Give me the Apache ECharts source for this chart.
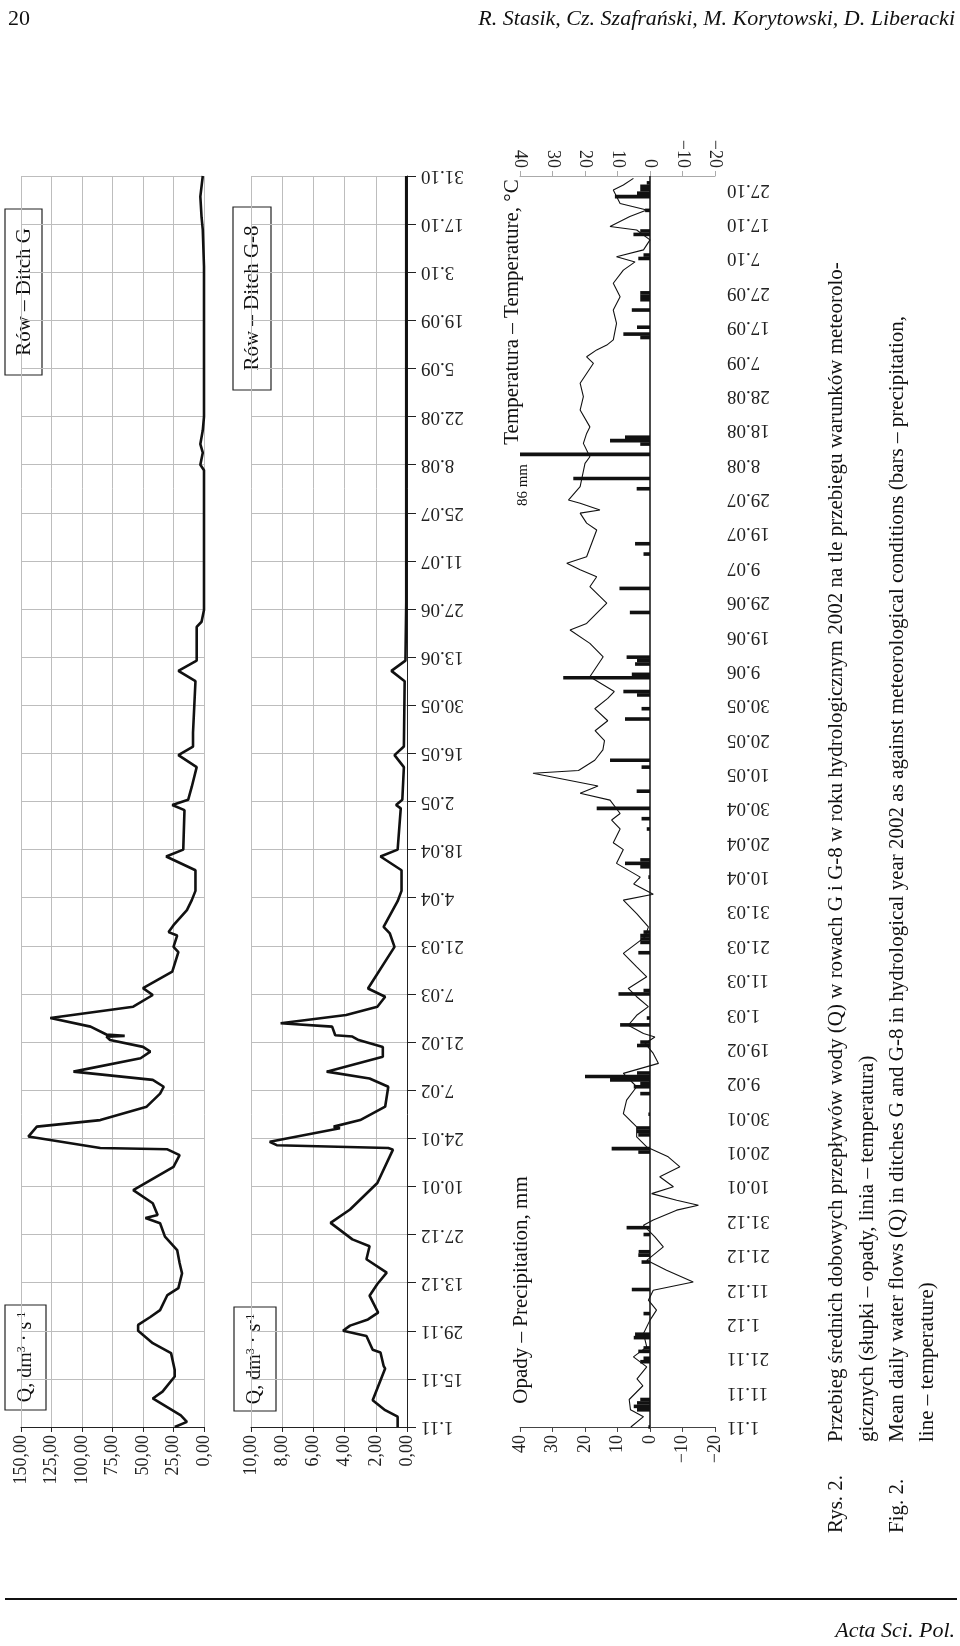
<!DOCTYPE html>
<html lang="pl">
<head>
<meta charset="UTF-8">
<title>Rys. 2</title>
<script src="https://cdn.jsdelivr.net/npm/echarts@6/dist/echarts.min.js"></script>
<style>
  html, body { margin: 0; padding: 0; background: #fff; }
  #charts { width: 960px; height: 1646px; }
</style>
</head>
<body>
<div id="charts"></div>
<script>
// dzien liczony od 1.11.2001 (0) do 31.10.2002 (364)
var qGDays = [0, 1.5, 3.4, 8.3, 10.3, 14.7, 16.6, 21.5, 24.4, 28, 29.7, 32, 34, 38.4, 40.4, 44.7, 47.7, 51.5, 55.4, 59.3, 60.8, 61.7, 65.1, 68.9, 75.7, 79.1, 80.8, 81.2, 84.5, 87.4, 89.3, 93.2, 97, 99, 101, 103.4, 107.3, 109.2, 110.6, 112.6, 113.6, 113.8, 114.2, 116.5, 119, 122.3, 125.7, 127.7, 132.5, 138.2, 139.7, 143, 144, 146, 150.4, 153.3, 156, 162, 166, 168, 179.5, 181, 182.5, 186.3, 192, 195.5, 198, 202, 217, 220, 223, 232.8, 234.3, 237.7, 278.4, 280, 283.5, 286, 290, 294, 337.6, 348.3, 352, 358, 364];
var qGVals = [24, 14, 19, 42, 34, 24, 24, 27, 42, 54, 54, 44, 36, 30, 21, 18, 20, 22, 32, 36, 48, 38, 42, 58, 25, 20, 30, 85, 144, 137, 85, 47, 36, 33, 42, 107, 52, 44, 50, 77, 80, 65, 80, 93, 126, 58, 42, 50, 26, 21, 25, 22, 29, 25, 14, 10, 7, 7, 31, 17, 16, 26, 13, 10, 6, 21, 9, 9, 7, 21, 6, 6, 2, 0, 0, 3, 1, 3, 1, 0, 0, 1, 2, 3, 1];

var qG8Days = [0, 3, 4.9, 7.8, 17, 17.8, 21.7, 22.5, 26.5, 28, 29.5, 31.3, 33.3, 38.2, 41.6, 44.9, 48.8, 52.6, 54.6, 59.4, 63.3, 71, 80.7, 81.2, 82, 83, 86.9, 87.4, 89.3, 93.2, 99, 101.4, 103.4, 107.7, 110.6, 112.6, 113.6, 114, 116.5, 117.5, 119.9, 122.3, 125.2, 127.6, 139.7, 143.6, 145.5, 153, 156, 162, 166, 168, 180, 181, 182.5, 192, 195.5, 198, 217, 220, 223, 240, 364];
var qG8Vals = [0.6, 0.6, 1.4, 2.2, 1.4, 1.5, 1.7, 2.2, 2.6, 4.1, 3.65, 2.5, 1.85, 2.4, 1.9, 1.3, 2.6, 2.4, 3.5, 4.9, 3.65, 1.9, 0.9, 1.2, 8.35, 8.8, 4.3, 4.7, 3, 1.4, 1.2, 2.4, 5.15, 1.55, 1.55, 3.1, 3.5, 4.6, 4.8, 8.1, 3.9, 1.9, 1.4, 2.5, 0.8, 1.1, 1.5, 0.6, 0.35, 0.35, 1.7, 0.6, 0.4, 0.7, 0.3, 0.2, 0.8, 0.2, 0.15, 1.0, 0.1, 0.05, 0.05];

var tempDays = [0, 3, 5, 8, 12, 14, 17.5, 20.4, 23.3, 27.2, 31.1, 34, 36.9, 39.8, 42.2, 45.6, 48.5, 52.4, 55.3, 58.7, 60.2, 63.1, 64.5, 66, 67.9, 69.9, 72.8, 75.7, 78.6, 81.5, 84.4, 87.3, 91.2, 95.1, 99, 102.9, 105.8, 108.7, 111.6, 113.5, 114.5, 116.9, 119.8, 122.3, 125.2, 127.6, 131, 133.9, 137.8, 142.6, 145.5, 149.4, 153.3, 155, 158, 160, 164, 168, 170, 174, 176.6, 178.5, 182.4, 184.4, 186.5, 190.2, 191, 194, 197, 199.7, 202.6, 205.5, 209, 212, 214, 218.3, 224.1, 228, 231.9, 233.8, 239.7, 244.5, 247.4, 249.4, 251.3, 253.2, 261, 263, 265.9, 266.8, 268.8, 269.7, 273.6, 280.4, 282.3, 286.2, 289.1, 291, 295.9, 299.8, 303.7, 309.5, 311.4, 313.4, 314.8, 316.3, 321.1, 325, 328.9, 332.8, 336.6, 339, 340.5, 342.5, 345.4, 348.3, 349.3, 352.2, 354.1, 356, 359.9, 361.4, 363.3];
var tempVals = [5.9, 2, 6, 6.4, 2.2, 4, 1, 5.1, 1, 2, 0, -2, 0.5, -1, -13.3, -5.1, 1, -4.1, -1.5, 2, -1, -8.2, -14.9, -8.2, -0.5, -7.2, -3, -9.2, -5.6, 1, 4.1, 4.1, 8.2, 7.2, 4.1, 8.2, -2.6, -1, 1.5, -1.5, 2, 6.7, 4.1, 0.5, 4.1, 6.7, 1, 4.1, 8.2, 1.5, 0.5, 4.1, 8.2, -1, 5, 3, 10.3, 8.2, 11.3, 9.2, 11.8, 9.2, 12.3, 21.5, 16, 36, 22, 17, 14.5, 14, 16.9, 13, 17, 13, 11, 18.5, 14.4, 18.5, 24.6, 19.5, 13.3, 18.5, 16.4, 21.5, 25.6, 19.5, 16.4, 19.5, 21.5, 15.4, 21.5, 25.1, 21.5, 20, 18.5, 20.5, 19.5, 18.5, 21.5, 20.5, 21.5, 17.4, 19.5, 16.4, 13.3, 11.3, 10.3, 11.3, 9.2, 11.3, 8.2, 4.6, 10.3, 2, 0, 4.1, 12.3, 6.2, 1, 9.2, 11.3, 8.2, 5.1];

var precDays = [0, 5, 6, 7, 8, 19, 20, 22, 23, 26, 27, 33, 40, 48, 50, 51, 56, 58, 80, 81, 85, 86, 87, 91, 97, 99, 100, 101, 102, 103, 111, 112, 117, 119, 126, 127, 138, 141, 142, 143, 144, 160, 163, 164, 165, 174, 177, 180, 185, 192, 194, 206, 209, 213, 214, 218, 219, 222, 223, 224, 237, 244, 254, 257, 273, 276, 283, 286, 287, 288, 317, 318, 320, 325, 328, 329, 330, 340, 341, 347, 348, 354, 358, 359, 360, 361, 362];
var precMm = [0.5, 4, 5, 4, 3, 3, 2, 3.6, 2, 5, 4.6, 2, 5.6, 2.6, 3.6, 3.5, 2, 7.2, 3.6, 11.8, 3.6, 4, 4, 0.5, 3, 5, 3, 12.3, 20, 4, 4, 3, 9.2, 1, 9.7, 2, 3.6, 3, 3, 3, 2, 0.5, 3, 7.7, 3, 1, 2.6, 16.4, 4.1, 2.6, 12.3, 7.7, 2.6, 4, 8.2, 26.7, 5.6, 4.6, 4, 7.2, 6.2, 9.4, 2, 4.6, 4.1, 23.6, 86, 3, 12.3, 7.7, 3, 8.2, 4, 5.6, 3, 3, 3, 3.6, 2, 5.1, 3, 1.5, 10.8, 4, 3, 3, 1];

var SERIF = '"Liberation Serif", "DejaVu Serif", serif';

function dayLabel(d) {
    var dt = new Date(2001, 10, 1 + Math.round(d));
    var m = dt.getMonth() + 1;
    return dt.getDate() + '.' + (m < 10 ? '0' + m : m);
}
function pairs(days, vals) {
    return days.map(function (d, i) { return [vals[i], d]; });
}

var TOP = 176, H = 1251;
var gridLine = { show: true, lineStyle: { color: '#bdbdbd', width: 1 } };
var valLabel = { rotate: 90, fontFamily: SERIF, fontSize: 18, color: '#222', margin: 8 };

function dayAxis(grid, interval, extra) {
    var a = {
        type: 'value', gridIndex: grid, min: 0, max: 364, interval: interval,
        axisLine: { show: false }, axisTick: { show: false },
        axisLabel: { show: false }, splitLine: { show: false }
    };
    for (var k in extra) a[k] = extra[k];
    return a;
}

var myChart = echarts.init(document.getElementById('charts'));
var option = {
    animation: false,
    grid: [
        { left: 21, top: TOP, width: 183, height: H },
        { left: 251, top: TOP, width: 156, height: H },
        { left: 520, top: TOP, width: 195, height: H }
    ],
    xAxis: [
        {
            type: 'value', gridIndex: 0, min: 0, max: 150, interval: 25, inverse: true,
            axisLine: { show: true, onZero: false, lineStyle: { color: '#222' } },
            axisTick: { show: true, length: 5, lineStyle: { color: '#222' } },
            axisLabel: Object.assign({ formatter: function (v) { return v.toFixed(2).replace('.', ','); } }, valLabel),
            splitLine: gridLine
        },
        {
            type: 'value', gridIndex: 1, min: 0, max: 10, interval: 2, inverse: true,
            axisLine: { show: true, onZero: false, lineStyle: { color: '#222' } },
            axisTick: { show: true, length: 5, lineStyle: { color: '#222' } },
            axisLabel: Object.assign({ formatter: function (v) { return v.toFixed(2).replace('.', ','); } }, valLabel),
            splitLine: gridLine
        },
        {
            type: 'value', gridIndex: 2, min: -20, max: 40, interval: 10, inverse: true, position: 'bottom',
            axisLine: { show: true, onZero: false, lineStyle: { color: '#444' } },
            axisTick: { show: true, length: 5, lineStyle: { color: '#444' } },
            axisLabel: Object.assign({ formatter: function (v) { return v < 0 ? '\u2212' + (-v) : '' + v; } }, valLabel),
            splitLine: { show: false }
        },
        {
            type: 'value', gridIndex: 2, min: -20, max: 40, interval: 10, inverse: true, position: 'top',
            axisLine: { show: true, onZero: false, lineStyle: { color: '#aaa' } },
            axisTick: { show: true, length: 5, lineStyle: { color: '#aaa' } },
            axisLabel: Object.assign({ formatter: function (v) { return v < 0 ? '\u2212' + (-v) : '' + v; } }, valLabel),
            splitLine: { show: false }
        }
    ],
    yAxis: [
        dayAxis(0, 14, { splitLine: gridLine }),
        dayAxis(1, 14, {
            position: 'right', splitLine: gridLine,
            axisLine: { show: true, lineStyle: { color: '#222' } },
            axisTick: { show: true, length: 9, lineStyle: { color: '#222' } },
            axisLabel: { show: true, rotate: 180, formatter: dayLabel, fontFamily: SERIF, fontSize: 19, color: '#222', margin: 14 }
        }),
        dayAxis(2, 10, {
            position: 'right',
            axisLabel: { show: true, rotate: 180, showMaxLabel: false, formatter: dayLabel, fontFamily: SERIF, fontSize: 19, color: '#222', margin: 12 }
        })
    ],
    series: [
        {
            type: 'line', xAxisIndex: 0, yAxisIndex: 0, data: pairs(qGDays, qGVals),
            symbol: 'none', lineStyle: { color: '#111', width: 2.6 }
        },
        {
            type: 'line', xAxisIndex: 1, yAxisIndex: 1, data: pairs(qG8Days, qG8Vals),
            symbol: 'none', lineStyle: { color: '#111', width: 2.6 }
        },
        {
            type: 'custom', xAxisIndex: 2, yAxisIndex: 2, data: pairs(precDays, precMm),
            renderItem: function (params, api) {
                var mm = Math.min(api.value(0), 40), d = api.value(1);
                var p0 = api.coord([0, d]), p1 = api.coord([mm, d]);
                return {
                    type: 'rect',
                    shape: { x: p1[0], y: p0[1] - 1.8, width: p0[0] - p1[0], height: 3.6 },
                    style: { fill: '#111' }
                };
            },
            markLine: {
                silent: true, symbol: 'none', label: { show: false },
                lineStyle: { color: '#111', width: 1.5, type: 'solid' },
                data: [{ xAxis: 0 }]
            }
        },
        {
            type: 'line', xAxisIndex: 2, yAxisIndex: 2, data: pairs(tempDays, tempVals),
            symbol: 'none', lineStyle: { color: '#111', width: 1.1 }
        }
    ],
    graphic: [
        // naglowek strony
        { type: 'text', x: 8, y: 8, style: { text: '20', font: '22px ' + SERIF, fill: '#111' } },
        { type: 'text', x: 955, y: 8, style: { text: 'R. Stasik, Cz. Szafrański, M. Korytowski, D. Liberacki', font: 'italic 22px ' + SERIF, fill: '#111', align: 'right' } },
        // ramki z opisami
        { type: 'rect', shape: { x: 5, y: 209, width: 37, height: 166 }, style: { fill: '#fff', stroke: '#222', lineWidth: 1.2 } },
        { type: 'text', x: 24, y: 292, rotation: Math.PI / 2, style: { text: 'Rów – Ditch G', font: '21px ' + SERIF, fill: '#111', align: 'center', verticalAlign: 'middle' } },
        { type: 'rect', shape: { x: 233, y: 207, width: 38, height: 183 }, style: { fill: '#fff', stroke: '#222', lineWidth: 1.2 } },
        { type: 'text', x: 252, y: 298, rotation: Math.PI / 2, style: { text: 'Rów – Ditch G-8', font: '21px ' + SERIF, fill: '#111', align: 'center', verticalAlign: 'middle' } },
        { type: 'rect', shape: { x: 5, y: 1305, width: 41, height: 105 }, style: { fill: '#fff', stroke: '#222', lineWidth: 1.2 } },
        { type: 'text', x: 26, y: 1357, rotation: Math.PI / 2, style: { text: 'Q, dm{s|3} · s{s|-1}', font: '20px ' + SERIF, fill: '#111', align: 'center', verticalAlign: 'middle', rich: { s: { fontSize: 12, fontFamily: SERIF, padding: [0, 0, 9, 0] } } } },
        { type: 'rect', shape: { x: 234, y: 1307, width: 42, height: 104 }, style: { fill: '#fff', stroke: '#222', lineWidth: 1.2 } },
        { type: 'text', x: 255, y: 1359, rotation: Math.PI / 2, style: { text: 'Q, dm{s|3} · s{s|-1}', font: '20px ' + SERIF, fill: '#111', align: 'center', verticalAlign: 'middle', rich: { s: { fontSize: 12, fontFamily: SERIF, padding: [0, 0, 9, 0] } } } },
        { type: 'text', x: 521, y: 1290, rotation: Math.PI / 2, style: { text: 'Opady – Precipitation, mm', font: '21px ' + SERIF, fill: '#111', align: 'center', verticalAlign: 'middle' } },
        { type: 'text', x: 512, y: 312, rotation: Math.PI / 2, style: { text: 'Temperatura – Temperature, °C', font: '21px ' + SERIF, fill: '#111', align: 'center', verticalAlign: 'middle' } },
        { type: 'text', x: 523, y: 485, rotation: Math.PI / 2, style: { text: '86 mm', font: '15px ' + SERIF, fill: '#111', align: 'center', verticalAlign: 'middle' } },
        // podpis
        { type: 'text', x: 836, y: 1533, rotation: Math.PI / 2, style: { text: 'Rys. 2.', font: '21px ' + SERIF, fill: '#111', verticalAlign: 'middle' } },
        { type: 'text', x: 836, y: 1442, rotation: Math.PI / 2, style: { text: 'Przebieg średnich dobowych przepływów wody (Q) w rowach G i G-8 w roku hydrologicznym 2002 na tle przebiegu warunków meteorolo-', font: '21px ' + SERIF, fill: '#111', verticalAlign: 'middle' } },
        { type: 'text', x: 867, y: 1442, rotation: Math.PI / 2, style: { text: 'gicznych (słupki – opady, linia – temperatura)', font: '21px ' + SERIF, fill: '#111', verticalAlign: 'middle' } },
        { type: 'text', x: 897, y: 1533, rotation: Math.PI / 2, style: { text: 'Fig. 2.', font: '21px ' + SERIF, fill: '#111', verticalAlign: 'middle' } },
        { type: 'text', x: 897, y: 1442, rotation: Math.PI / 2, style: { text: 'Mean daily water flows (Q) in ditches G and G-8 in hydrological year 2002 as against meteorological conditions (bars – precipitation,', font: '21px ' + SERIF, fill: '#111', verticalAlign: 'middle' } },
        { type: 'text', x: 927, y: 1442, rotation: Math.PI / 2, style: { text: 'line – temperature)', font: '21px ' + SERIF, fill: '#111', verticalAlign: 'middle' } },
        // stopka
        { type: 'line', shape: { x1: 5, y1: 1599, x2: 957, y2: 1599 }, style: { stroke: '#111', lineWidth: 2 } },
        { type: 'text', x: 955, y: 1620, style: { text: 'Acta Sci. Pol.', font: 'italic 22px ' + SERIF, fill: '#111', align: 'right' } }
    ]
};
myChart.setOption(option);
</script>
</body>
</html>
